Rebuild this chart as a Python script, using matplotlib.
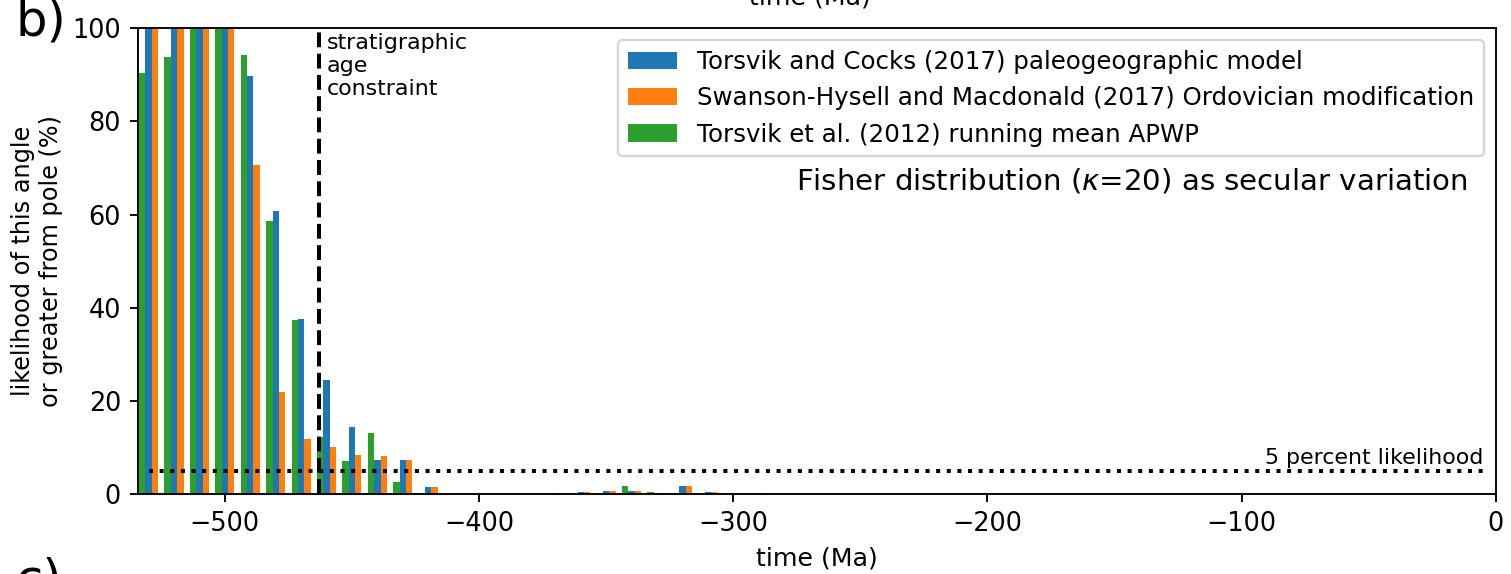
import numpy as np
import matplotlib
matplotlib.use('Agg')
import matplotlib.pyplot as plt

# ages of the 10 Myr bins (Ma, negative = past)
ages = [-530, -520, -510, -500, -490, -480, -470, -460, -450, -440, -430, -420, -410,
        -400, -390, -380, -370, -360, -350, -340, -330, -320, -310, -300, -290]

# likelihood (%) for each model
torsvik_cocks = [100, 100, 100, 100, 89.8, 60.8, 37.6, 24.6, 14.4, 7.4, 7.4, 1.6, 0,
                 0, 0, 0, 0.3, 0.5, 0.8, 0.8, 0.3, 1.8, 0.5, 0.35, 0.35]
swanson_macdonald = [100, 100, 100, 100, 70.7, 22.0, 11.8, 10.1, 8.4, 8.2, 7.4, 1.6, 0,
                     0, 0, 0, 0.3, 0.5, 0.8, 0.8, 0.3, 1.8, 0.5, 0.35, 0.35]
torsvik_apwp = [90.3, 93.8, 100, 100, 94.3, 58.6, 37.4, 12.2, 7.1, 13.2, 2.6, 0.2, 0,
                0, 0, 0, 0.2, 0, 0, 1.8, 0.5, 0.2, 0, 0, 0]

labels = ['Torsvik and Cocks (2017) paleogeographic model',
          'Swanson-Hysell and Macdonald (2017) Ordovician modification',
          'Torsvik et al. (2012) running mean APWP']

strat_age = -463
bar_w = 2.5

fig = plt.figure(figsize=(1511 / 170, 574 / 170), dpi=170)
ax = fig.add_axes([0.0911, 0.1388, 0.8989, 0.8124])

x = np.array(ages, dtype=float)
ax.bar(x, torsvik_cocks, bar_w, color='#1f77b4', label=labels[0])
ax.bar(x + bar_w, swanson_macdonald, bar_w, color='#ff7f0e', label=labels[1])
ax.bar(x - bar_w, torsvik_apwp, bar_w, color='#2ca02c', label=labels[2])

# age constraint and 5 % threshold
ax.axvline(strat_age, color='k', linestyle='--', linewidth=1.7)
ax.text(strat_age + 3, 99, 'stratigraphic\nage\nconstraint', fontsize=9.35, va='top', ha='left')
ax.plot([-530, -5], [5, 5], color='k', linestyle=':', linewidth=1.7)
ax.text(-5, 6.5, '5 percent likelihood', fontsize=9.35, ha='right', va='baseline')

ax.text(0.979, 0.672, r'Fisher distribution ($\kappa$=20) as secular variation',
        transform=ax.transAxes, fontsize=12.4, ha='right', va='center')

ax.set_xlim(-534.3, 0)
ax.set_ylim(0, 100)
ax.tick_params(labelsize=10.8)
ax.set_xlabel('time (Ma)', fontsize=10.7)
ax.set_ylabel('likelihood of this angle\nor greater from pole (%)', fontsize=10.2)
ax.legend(loc='upper right', fontsize=10.4)

# panel letters (figure is a crop of a larger multi-panel figure)
fig.text(15 / 1511, 1 - 36 / 574, 'b)', fontsize=21, va='baseline')
fig.text(0.536, 1 - 4 / 574, 'time (Ma)', fontsize=10.7, ha='center', va='baseline')
fig.text(15 / 1511, -0.035, 'c)', fontsize=21, va='baseline')

plt.savefig('out.png', dpi=170)
plt.close()
